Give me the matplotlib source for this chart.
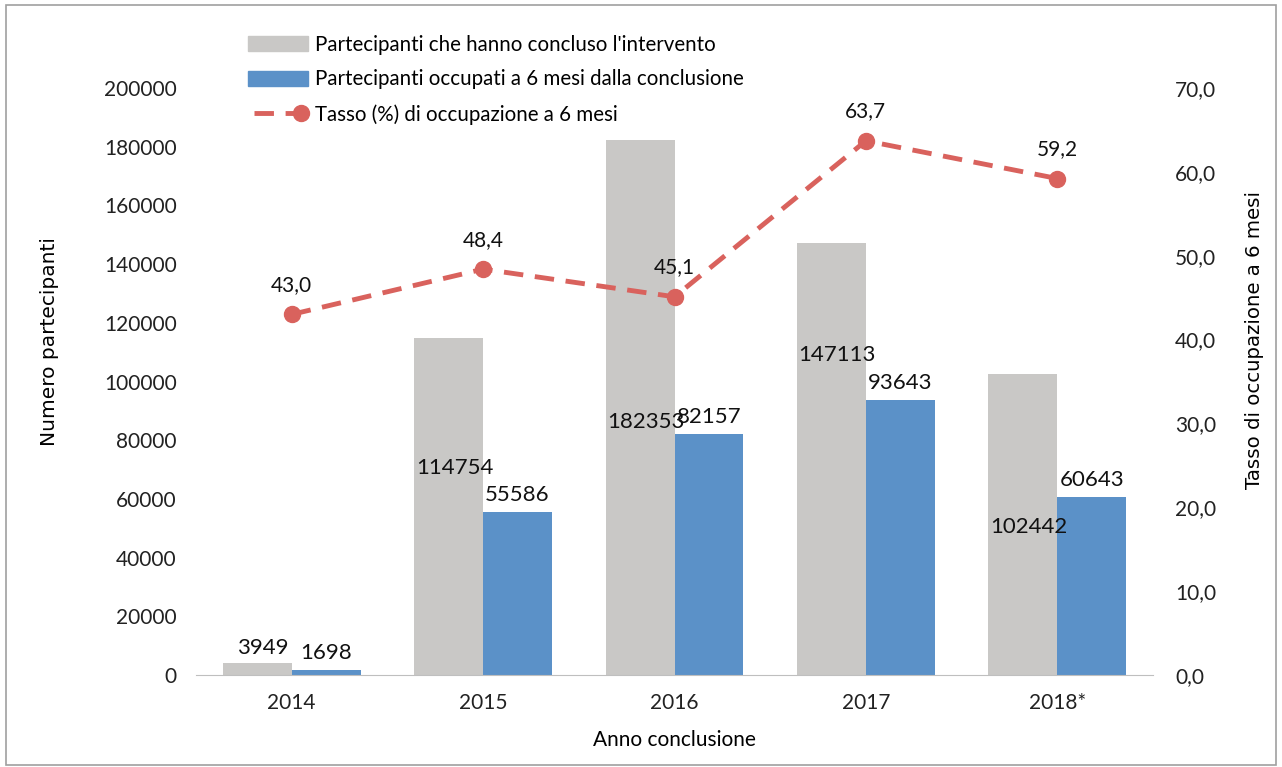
import matplotlib
matplotlib.use("Agg")
import matplotlib.pyplot as plt
import numpy as np
from matplotlib.patches import Rectangle, Patch
from matplotlib.lines import Line2D
from matplotlib.legend_handler import HandlerLine2D

years = ["2014", "2015", "2016", "2017", "2018*"]
concluded = [3949, 114754, 182353, 147113, 102442]
employed = [1698, 55586, 82157, 93643, 60643]
rate = [43.0, 48.4, 45.1, 63.7, 59.2]

left_ticks = [0, 20000, 40000, 60000, 80000, 100000, 120000, 140000, 160000, 180000, 200000]
right_ticks = [0, 10, 20, 30, 40, 50, 60, 70]

# layout-only: vertical centre of the grey-bar labels (Excel-style placement)
grey_label_y = [9200, 70500, 86200, 109000, 50400]

FONT = "Lato"
FS_TICK = 15
FS_LAB = 16
FS_LEG = 14.8
GREY = "#c9c8c6"
BLUE = "#5b91c8"
RED = "#d9625d"
DASH = (0, (4.0, 2.4))


class EndMarkerHandler(HandlerLine2D):
    def create_artists(self, legend, orig_handle, xdescent, ydescent, width, height,
                       fontsize, trans):
        arts = super().create_artists(legend, orig_handle, xdescent, ydescent, width, height,
                                      fontsize, trans)
        for a in arts:
            a.set_markevery([1])
        return arts


fig = plt.figure(figsize=(12.82, 7.67), dpi=100)
ax = fig.add_axes([0.1529, 0.1199, 0.7465, 0.7654])
ax2 = ax.twinx()

x = np.arange(len(years))
w = 0.36
ax.bar(x - w / 2, concluded, width=w, color=GREY, zorder=2)
ax.bar(x + w / 2, employed, width=w, color=BLUE, zorder=2)

for i in range(len(years)):
    ax.text(x[i] - w / 2 + 0.03, grey_label_y[i], str(concluded[i]), ha="center", va="center",
            fontsize=FS_LAB, family=FONT, color="#111111", zorder=5)
    ax.text(x[i] + w / 2, employed[i] + 2400, str(employed[i]), ha="center", va="bottom",
            fontsize=FS_LAB, family=FONT, color="#111111", zorder=5)

ax2.plot(x, rate, color=RED, lw=3.5, ls=DASH, marker="o", markersize=11.5,
         markerfacecolor=RED, markeredgecolor=RED, zorder=4)
for i in range(len(years)):
    ax2.text(x[i], rate[i] + 3.5, f"{rate[i]:.1f}".replace(".", ","), ha="center", va="center",
             fontsize=FS_TICK, family=FONT, color="#111111")

ax.set_xlim(-0.5, len(years) - 0.5)
ax.set_ylim(0, 200000)
ax2.set_ylim(0, 70)
ax.set_yticks(left_ticks)
ax.set_yticklabels([str(v) for v in left_ticks], family=FONT, fontsize=FS_TICK)
ax2.set_yticks(right_ticks)
ax2.set_yticklabels([f"{v:.1f}".replace(".", ",") for v in right_ticks], family=FONT, fontsize=FS_TICK)
ax.set_xticks(x)
ax.set_xticklabels(years, family=FONT, fontsize=FS_TICK)

for a in (ax, ax2):
    for s in ("top", "left", "right"):
        a.spines[s].set_visible(False)
    a.spines["bottom"].set_color("#bfbfbf")
    a.tick_params(length=0, colors="#222222")
ax2.spines["bottom"].set_visible(False)
ax.tick_params(axis="y", pad=14)
ax2.tick_params(axis="y", pad=16)
ax.tick_params(axis="x", pad=13)

ax.set_xlabel("Anno conclusione", family=FONT, fontsize=FS_TICK, labelpad=12)
fig.text(0.039, 0.555, "Numero partecipanti", rotation=90, ha="center", va="center",
         fontsize=14.5, family="DejaVu Sans")
fig.text(0.9785, 0.557, "Tasso di occupazione a 6 mesi", rotation=90, ha="center", va="center",
         fontsize=14.2, family="DejaVu Sans")

line_handle = Line2D([0], [0], color=RED, lw=3.5, ls=DASH, marker="o", markersize=11.5)
handles = [Patch(color=GREY), Patch(color=BLUE), line_handle]
labels = ["Partecipanti che hanno concluso l'intervento",
          "Partecipanti occupati a 6 mesi dalla conclusione",
          "Tasso (%) di occupazione a 6 mesi"]
leg = fig.legend(handles, labels, loc="upper left", bbox_to_anchor=(0.179, 0.979), frameon=False,
                 prop={"family": FONT, "size": FS_LEG}, handlelength=2.9, handletextpad=0.36,
                 labelspacing=0.72, handleheight=0.75,
                 handler_map={line_handle: EndMarkerHandler(numpoints=2)})

fig.patches.append(Rectangle((0.005, 0.003), 0.99, 0.99, transform=fig.transFigure,
                             fill=False, edgecolor="#a0a0a0", lw=1.2))

fig.savefig("out.png", dpi=100)
